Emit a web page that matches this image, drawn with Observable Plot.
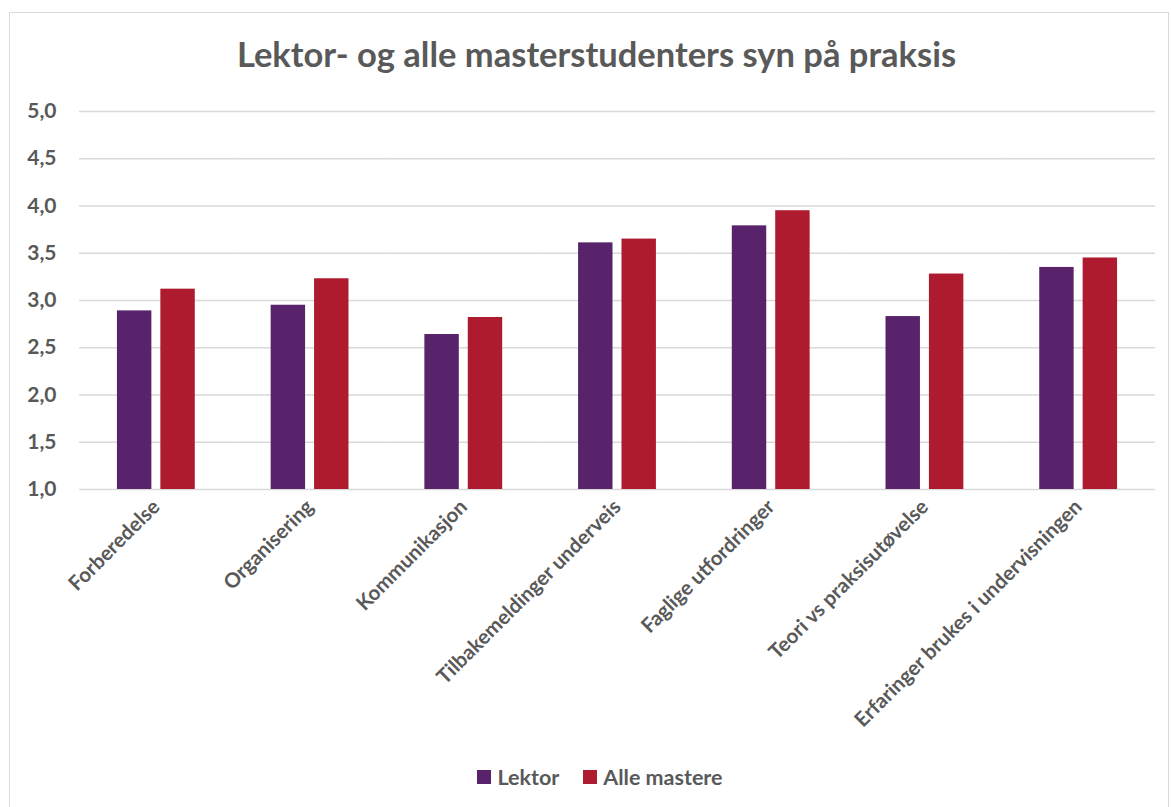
<!DOCTYPE html>
<html><head><meta charset="utf-8">
<script src="https://cdn.jsdelivr.net/npm/d3@7"></script>
<script src="https://cdn.jsdelivr.net/npm/@observablehq/plot@0.6"></script>
<style>
body{margin:0;background:#fff;font-family:Lato,"Open Sans",sans-serif;}
#wrap{position:relative;width:1171px;height:807px;overflow:hidden;background:#fff}
#frame{position:absolute;left:9px;top:12px;width:1160px;height:830px;border:1.5px solid #d9d9d9;box-sizing:border-box;pointer-events:none}
#title{height:90px;box-sizing:border-box;padding-top:35px;padding-left:22px;text-align:center;font-size:34.5px;line-height:38px;font-weight:bold;color:#595959}
#chart svg{display:block}
#legend{display:flex;justify-content:center;align-items:center;padding-left:29px;padding-top:6px;box-sizing:border-box;height:67px;gap:24px;font-size:21.5px;font-weight:bold;color:#595959}
.item{display:flex;align-items:center;gap:6px}
.sw{width:14px;height:14px;display:inline-block}
</style></head>
<body>
<div id="wrap">
  <div id="frame"></div>
  <div id="title"></div>
  <div id="chart"></div>
  <div id="legend"></div>
</div>
<script>
const titleText = "Lektor- og alle masterstudenters syn på praksis";
const categories = ["Forberedelse","Organisering","Kommunikasjon","Tilbakemeldinger underveis","Faglige utfordringer","Teori vs praksisutøvelse","Erfaringer brukes i undervisningen"];
const series = ["Lektor","Alle mastere"];
const lektor = [2.89, 2.95, 2.64, 3.61, 3.79, 2.83, 3.35];
const alleMastere = [3.12, 3.23, 2.82, 3.65, 3.95, 3.28, 3.45];
const colors = ["#58236b", "#ae1b2f"];
const yTicks = [1, 1.5, 2, 2.5, 3, 3.5, 4, 4.5, 5];

document.getElementById("title").textContent = titleText;

const data = [];
categories.forEach((c, i) => {
  data.push({category: c, series: series[0], value: lektor[i]});
  data.push({category: c, series: series[1], value: alleMastere[i]});
});

const textColor = "#595959";
const plot = Plot.plot({
  width: 1171,
  height: 650,
  marginLeft: 79,
  marginRight: 16,
  marginTop: 21,
  marginBottom: 251,
  style: {fontFamily: "Lato, 'Open Sans', sans-serif", color: textColor, background: "transparent"},
  fx: {domain: categories, padding: 0, round: false, label: null},
  x: {domain: series, paddingInner: 0.207, paddingOuter: 0.874, round: false, axis: null},
  y: {domain: [1, 5], label: null},
  color: {domain: series, range: colors},
  marks: [
    Plot.gridY(yTicks, {stroke: "#d9d9d9", strokeOpacity: 1, strokeWidth: 1.3}),
    Plot.barY(data, {fx: "category", x: "series", y1: 1, y2: "value", fill: "series"}),
    Plot.axisY(yTicks, {tickSize: 0, tickPadding: 23, tickFormat: d => d.toFixed(1).replace(".", ","), fontSize: 21, fontWeight: "bold", fill: textColor, label: null}),
    Plot.axisFx({anchor: "bottom", tickRotate: -45, tickSize: 0, tickPadding: 14, fontSize: 20.5, fontWeight: "bold", fill: textColor, label: null})
  ]
});
document.getElementById("chart").appendChild(plot);

const legend = document.getElementById("legend");
series.forEach((s, i) => {
  const it = document.createElement("div");
  it.className = "item";
  const sw = document.createElement("span");
  sw.className = "sw";
  sw.style.background = colors[i];
  const t = document.createElement("span");
  t.textContent = s;
  it.appendChild(sw); it.appendChild(t);
  legend.appendChild(it);
});
</script>
</body></html>
